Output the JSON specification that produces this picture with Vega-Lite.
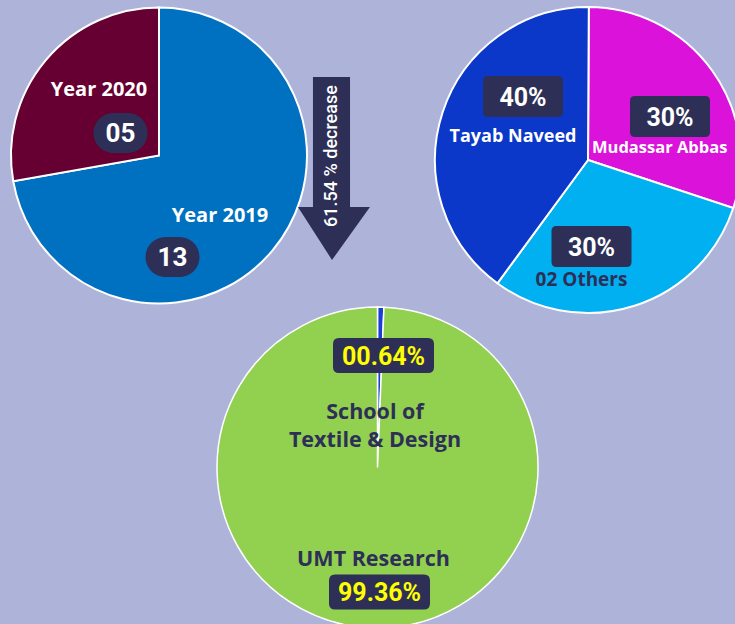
{
  "$schema": "https://vega.github.io/schema/vega-lite/v6.json",
  "width": 735,
  "height": 624,
  "padding": 0,
  "autosize": {"type": "none"},
  "background": "#AEB3D9",
  "config": {"view": {"stroke": null}},
  "datasets": {
    "slices": [
      {"chart": "Publications", "category": "Year 2019", "value": 13, "display": "13"},
      {"chart": "Publications", "category": "Year 2020", "value": 5, "display": "05"},
      {"chart": "Authors", "category": "Mudassar Abbas", "value": 30, "display": "30%"},
      {"chart": "Authors", "category": "02 Others", "value": 30, "display": "30%"},
      {"chart": "Authors", "category": "Tayab Naveed", "value": 40, "display": "40%"},
      {"chart": "Share", "category": "School of\nTextile & Design", "value": 0.64, "display": "00.64%"},
      {"chart": "Share", "category": "UMT Research", "value": 99.36, "display": "99.36%"},
      {"chart": "Change", "category": "decrease", "value": -61.54, "display": "61.54 % decrease"}
    ]
  },
  "data": {"name": "slices"},
  "layer": [
    {
      "transform": [{"filter": "datum.chart === 'Publications'"}],
      "mark": {"type": "arc", "radius": 148, "stroke": "#FFFFFF", "strokeWidth": 2},
      "encoding": {
        "x": {"datum": 159, "type": "quantitative", "scale": {"domain": [0, 735], "nice": false, "zero": false}, "axis": null},
        "y": {"datum": 155.5, "type": "quantitative", "scale": {"domain": [0, 624], "nice": false, "zero": false, "reverse": true}, "axis": null},
        "theta": {"field": "value", "type": "quantitative", "stack": true},
        "order": {"field": "category", "sort": "ascending"},
        "color": {"field": "category", "type": "nominal", "legend": null, "scale": {"domain": ["Year 2019", "Year 2020", "Mudassar Abbas", "02 Others", "Tayab Naveed", "School of\nTextile & Design", "UMT Research"], "range": ["#0070C0", "#660033", "#DA12DA", "#00B0F0", "#0B38C8", "#1B3FD2", "#92D050"]}}
      }
    },
    {
      "transform": [{"filter": "datum.chart === 'Authors'"}],
      "mark": {"type": "arc", "radius": 153, "stroke": "#FFFFFF", "strokeWidth": 2},
      "encoding": {
        "x": {"datum": 588, "type": "quantitative", "scale": {"domain": [0, 735], "nice": false, "zero": false}, "axis": null},
        "y": {"datum": 160, "type": "quantitative", "scale": {"domain": [0, 624], "nice": false, "zero": false, "reverse": true}, "axis": null},
        "theta": {"field": "value", "type": "quantitative", "stack": true, "scale": {"range": [3.7752, 10.0584]}},
        "order": {"field": "category", "sort": "descending"},
        "color": {"field": "category", "type": "nominal", "legend": null, "scale": {"domain": ["Year 2019", "Year 2020", "Mudassar Abbas", "02 Others", "Tayab Naveed", "School of\nTextile & Design", "UMT Research"], "range": ["#0070C0", "#660033", "#DA12DA", "#00B0F0", "#0B38C8", "#1B3FD2", "#92D050"]}}
      }
    },
    {
      "transform": [{"filter": "datum.chart === 'Share'"}],
      "mark": {"type": "arc", "radius": 160.5, "stroke": "#FFFFFF", "strokeWidth": 1.5},
      "encoding": {
        "x": {"datum": 377.5, "type": "quantitative", "scale": {"domain": [0, 735], "nice": false, "zero": false}, "axis": null},
        "y": {"datum": 467.5, "type": "quantitative", "scale": {"domain": [0, 624], "nice": false, "zero": false, "reverse": true}, "axis": null},
        "theta": {"field": "value", "type": "quantitative", "stack": true},
        "order": {"field": "category", "sort": "ascending"},
        "color": {"field": "category", "type": "nominal", "legend": null, "scale": {"domain": ["Year 2019", "Year 2020", "Mudassar Abbas", "02 Others", "Tayab Naveed", "School of\nTextile & Design", "UMT Research"], "range": ["#0070C0", "#660033", "#DA12DA", "#00B0F0", "#0B38C8", "#1B3FD2", "#92D050"]}}
      }
    },
    {
      "transform": [{"filter": "datum.chart === 'Change'"}],
      "mark": {"type": "point", "filled": true, "fill": "#2D2F56", "opacity": 1, "strokeWidth": 0, "size": 33489, "shape": "M -0.208 -1 L 0.197 -1 L 0.197 0.421 L 0.415 0.421 L 0 1 L -0.372 0.421 L -0.208 0.421 Z"},
      "encoding": {
        "x": {"datum": 332, "type": "quantitative", "scale": {"domain": [0, 735], "nice": false, "zero": false}, "axis": null},
        "y": {"datum": 168.5, "type": "quantitative", "scale": {"domain": [0, 624], "nice": false, "zero": false, "reverse": true}, "axis": null}
      }
    },
    {
      "transform": [{"filter": "datum.chart === 'Change'"}],
      "mark": {"type": "text", "angle": 270, "align": "center", "baseline": "middle", "font": "Roboto", "fontWeight": 500, "fontSize": 18, "color": "#FFFFFF"},
      "encoding": {
        "x": {"datum": 332, "type": "quantitative", "scale": {"domain": [0, 735], "nice": false, "zero": false}, "axis": null},
        "y": {"datum": 156, "type": "quantitative", "scale": {"domain": [0, 624], "nice": false, "zero": false, "reverse": true}, "axis": null},
        "text": {"field": "display"}
      }
    },
    {
      "transform": [{"filter": "datum.category === 'Year 2020'"}],
      "encoding": {
        "x": {"datum": 120.5, "type": "quantitative", "scale": {"domain": [0, 735], "nice": false, "zero": false}, "axis": null},
        "y": {"datum": 133, "type": "quantitative", "scale": {"domain": [0, 624], "nice": false, "zero": false, "reverse": true}, "axis": null}
      },
      "layer": [
        {"mark": {"type": "point", "filled": true, "fill": "#2D2F56", "opacity": 1, "strokeWidth": 0, "size": 2916, "shape": "M -0.2593 -0.7407 L 0.2593 -0.7407 A 0.7407 0.7407 0 0 1 0.2593 0.7407 L -0.2593 0.7407 A 0.7407 0.7407 0 0 1 -0.2593 -0.7407 Z"}},
        {"mark": {"type": "text", "align": "center", "baseline": "middle", "font": "Roboto", "fontWeight": "bold", "fontSize": 26, "color": "#FFFFFF", "dy": 1}, "encoding": {"text": {"field": "display"}}}
      ]
    },
    {
      "transform": [{"filter": "datum.category === 'Year 2019'"}],
      "encoding": {
        "x": {"datum": 172.5, "type": "quantitative", "scale": {"domain": [0, 735], "nice": false, "zero": false}, "axis": null},
        "y": {"datum": 257, "type": "quantitative", "scale": {"domain": [0, 624], "nice": false, "zero": false, "reverse": true}, "axis": null}
      },
      "layer": [
        {"mark": {"type": "point", "filled": true, "fill": "#2D2F56", "opacity": 1, "strokeWidth": 0, "size": 2916, "shape": "M -0.2593 -0.7407 L 0.2593 -0.7407 A 0.7407 0.7407 0 0 1 0.2593 0.7407 L -0.2593 0.7407 A 0.7407 0.7407 0 0 1 -0.2593 -0.7407 Z"}},
        {"mark": {"type": "text", "align": "center", "baseline": "middle", "font": "Roboto", "fontWeight": "bold", "fontSize": 26, "color": "#FFFFFF", "dy": 1}, "encoding": {"text": {"field": "display"}}}
      ]
    },
    {
      "transform": [{"filter": "datum.category === 'Year 2020'"}],
      "mark": {"type": "text", "align": "center", "baseline": "middle", "font": "Open Sans", "fontWeight": "bold", "fontSize": 20, "color": "#FFFFFF"},
      "encoding": {
        "x": {"datum": 99, "type": "quantitative", "scale": {"domain": [0, 735], "nice": false, "zero": false}, "axis": null},
        "y": {"datum": 90, "type": "quantitative", "scale": {"domain": [0, 624], "nice": false, "zero": false, "reverse": true}, "axis": null},
        "text": {"field": "category"}
      }
    },
    {
      "transform": [{"filter": "datum.category === 'Year 2019'"}],
      "mark": {"type": "text", "align": "center", "baseline": "middle", "font": "Open Sans", "fontWeight": "bold", "fontSize": 20, "color": "#FFFFFF"},
      "encoding": {
        "x": {"datum": 220, "type": "quantitative", "scale": {"domain": [0, 735], "nice": false, "zero": false}, "axis": null},
        "y": {"datum": 216, "type": "quantitative", "scale": {"domain": [0, 624], "nice": false, "zero": false, "reverse": true}, "axis": null},
        "text": {"field": "category"}
      }
    },
    {
      "transform": [{"filter": "datum.category === 'Tayab Naveed'"}],
      "encoding": {
        "x": {"datum": 523, "type": "quantitative", "scale": {"domain": [0, 735], "nice": false, "zero": false}, "axis": null},
        "y": {"datum": 96.5, "type": "quantitative", "scale": {"domain": [0, 624], "nice": false, "zero": false, "reverse": true}, "axis": null}
      },
      "layer": [
        {"mark": {"type": "point", "filled": true, "fill": "#2D2F56", "opacity": 1, "strokeWidth": 0, "size": 6400, "shape": "M -0.875 -0.5125 L 0.875 -0.5125 Q 1 -0.5125 1 -0.3875 L 1 0.3875 Q 1 0.5125 0.875 0.5125 L -0.875 0.5125 Q -1 0.5125 -1 0.3875 L -1 -0.3875 Q -1 -0.5125 -0.875 -0.5125 Z"}},
        {"mark": {"type": "text", "align": "center", "baseline": "middle", "font": "Roboto", "fontWeight": "bold", "fontSize": 25, "color": "#FFFFFF", "dy": 1}, "encoding": {"text": {"field": "display"}}}
      ]
    },
    {
      "transform": [{"filter": "datum.category === 'Mudassar Abbas'"}],
      "encoding": {
        "x": {"datum": 670, "type": "quantitative", "scale": {"domain": [0, 735], "nice": false, "zero": false}, "axis": null},
        "y": {"datum": 116.5, "type": "quantitative", "scale": {"domain": [0, 624], "nice": false, "zero": false, "reverse": true}, "axis": null}
      },
      "layer": [
        {"mark": {"type": "point", "filled": true, "fill": "#2D2F56", "opacity": 1, "strokeWidth": 0, "size": 6400, "shape": "M -0.875 -0.5125 L 0.875 -0.5125 Q 1 -0.5125 1 -0.3875 L 1 0.3875 Q 1 0.5125 0.875 0.5125 L -0.875 0.5125 Q -1 0.5125 -1 0.3875 L -1 -0.3875 Q -1 -0.5125 -0.875 -0.5125 Z"}},
        {"mark": {"type": "text", "align": "center", "baseline": "middle", "font": "Roboto", "fontWeight": "bold", "fontSize": 25, "color": "#FFFFFF", "dy": 1}, "encoding": {"text": {"field": "display"}}}
      ]
    },
    {
      "transform": [{"filter": "datum.category === '02 Others'"}],
      "encoding": {
        "x": {"datum": 591.5, "type": "quantitative", "scale": {"domain": [0, 735], "nice": false, "zero": false}, "axis": null},
        "y": {"datum": 246.5, "type": "quantitative", "scale": {"domain": [0, 624], "nice": false, "zero": false, "reverse": true}, "axis": null}
      },
      "layer": [
        {"mark": {"type": "point", "filled": true, "fill": "#2D2F56", "opacity": 1, "strokeWidth": 0, "size": 6400, "shape": "M -0.875 -0.5125 L 0.875 -0.5125 Q 1 -0.5125 1 -0.3875 L 1 0.3875 Q 1 0.5125 0.875 0.5125 L -0.875 0.5125 Q -1 0.5125 -1 0.3875 L -1 -0.3875 Q -1 -0.5125 -0.875 -0.5125 Z"}},
        {"mark": {"type": "text", "align": "center", "baseline": "middle", "font": "Roboto", "fontWeight": "bold", "fontSize": 25, "color": "#FFFFFF", "dy": 1}, "encoding": {"text": {"field": "display"}}}
      ]
    },
    {
      "transform": [{"filter": "datum.category === 'Tayab Naveed'"}],
      "mark": {"type": "text", "align": "center", "baseline": "middle", "font": "Open Sans", "fontWeight": "bold", "fontSize": 18, "color": "#FFFFFF"},
      "encoding": {
        "x": {"datum": 513, "type": "quantitative", "scale": {"domain": [0, 735], "nice": false, "zero": false}, "axis": null},
        "y": {"datum": 137, "type": "quantitative", "scale": {"domain": [0, 624], "nice": false, "zero": false, "reverse": true}, "axis": null},
        "text": {"field": "category"}
      }
    },
    {
      "transform": [{"filter": "datum.category === 'Mudassar Abbas'"}],
      "mark": {"type": "text", "align": "left", "baseline": "middle", "font": "Open Sans", "fontWeight": "bold", "fontSize": 16.5, "color": "#FFFFFF"},
      "encoding": {
        "x": {"datum": 592, "type": "quantitative", "scale": {"domain": [0, 735], "nice": false, "zero": false}, "axis": null},
        "y": {"datum": 148, "type": "quantitative", "scale": {"domain": [0, 624], "nice": false, "zero": false, "reverse": true}, "axis": null},
        "text": {"field": "category"}
      }
    },
    {
      "transform": [{"filter": "datum.category === '02 Others'"}],
      "mark": {"type": "text", "align": "center", "baseline": "middle", "font": "Open Sans", "fontWeight": "bold", "fontSize": 19, "color": "#2D2F56"},
      "encoding": {
        "x": {"datum": 581.5, "type": "quantitative", "scale": {"domain": [0, 735], "nice": false, "zero": false}, "axis": null},
        "y": {"datum": 280, "type": "quantitative", "scale": {"domain": [0, 624], "nice": false, "zero": false, "reverse": true}, "axis": null},
        "text": {"field": "category"}
      }
    },
    {
      "transform": [{"filter": "datum.category === 'School of\\nTextile & Design'"}],
      "encoding": {
        "x": {"datum": 383.5, "type": "quantitative", "scale": {"domain": [0, 735], "nice": false, "zero": false}, "axis": null},
        "y": {"datum": 355.5, "type": "quantitative", "scale": {"domain": [0, 624], "nice": false, "zero": false, "reverse": true}, "axis": null}
      },
      "layer": [
        {"mark": {"type": "point", "filled": true, "fill": "#2D2F56", "opacity": 1, "strokeWidth": 0, "size": 10201, "shape": "M -0.8812 -0.3465 L 0.8812 -0.3465 Q 1 -0.3465 1 -0.2277 L 1 0.2277 Q 1 0.3465 0.8812 0.3465 L -0.8812 0.3465 Q -1 0.3465 -1 0.2277 L -1 -0.2277 Q -1 -0.3465 -0.8812 -0.3465 Z"}},
        {"mark": {"type": "text", "align": "center", "baseline": "middle", "font": "Roboto", "fontWeight": "bold", "fontSize": 25, "color": "#FFFF00", "dy": 1}, "encoding": {"text": {"field": "display"}}}
      ]
    },
    {
      "transform": [{"filter": "datum.category === 'UMT Research'"}],
      "encoding": {
        "x": {"datum": 379.5, "type": "quantitative", "scale": {"domain": [0, 735], "nice": false, "zero": false}, "axis": null},
        "y": {"datum": 592, "type": "quantitative", "scale": {"domain": [0, 624], "nice": false, "zero": false, "reverse": true}, "axis": null}
      },
      "layer": [
        {"mark": {"type": "point", "filled": true, "fill": "#2D2F56", "opacity": 1, "strokeWidth": 0, "size": 10201, "shape": "M -0.8812 -0.3465 L 0.8812 -0.3465 Q 1 -0.3465 1 -0.2277 L 1 0.2277 Q 1 0.3465 0.8812 0.3465 L -0.8812 0.3465 Q -1 0.3465 -1 0.2277 L -1 -0.2277 Q -1 -0.3465 -0.8812 -0.3465 Z"}},
        {"mark": {"type": "text", "align": "center", "baseline": "middle", "font": "Roboto", "fontWeight": "bold", "fontSize": 25, "color": "#FFFF00", "dy": 1}, "encoding": {"text": {"field": "display"}}}
      ]
    },
    {
      "transform": [{"filter": "datum.category === 'School of\\nTextile & Design'"}],
      "mark": {"type": "text", "align": "center", "baseline": "middle", "lineBreak": "\n", "lineHeight": 28, "font": "Open Sans", "fontWeight": "bold", "fontSize": 21.5, "color": "#2D2F56"},
      "encoding": {
        "x": {"datum": 375, "type": "quantitative", "scale": {"domain": [0, 735], "nice": false, "zero": false}, "axis": null},
        "y": {"datum": 413, "type": "quantitative", "scale": {"domain": [0, 624], "nice": false, "zero": false, "reverse": true}, "axis": null},
        "text": {"field": "category"}
      }
    },
    {
      "transform": [{"filter": "datum.category === 'UMT Research'"}],
      "mark": {"type": "text", "align": "center", "baseline": "middle", "font": "Open Sans", "fontWeight": "bold", "fontSize": 21.5, "color": "#2D2F56"},
      "encoding": {
        "x": {"datum": 373.5, "type": "quantitative", "scale": {"domain": [0, 735], "nice": false, "zero": false}, "axis": null},
        "y": {"datum": 560, "type": "quantitative", "scale": {"domain": [0, 624], "nice": false, "zero": false, "reverse": true}, "axis": null},
        "text": {"field": "category"}
      }
    }
  ],
  "resolve": {"scale": {"theta": "independent"}}
}
